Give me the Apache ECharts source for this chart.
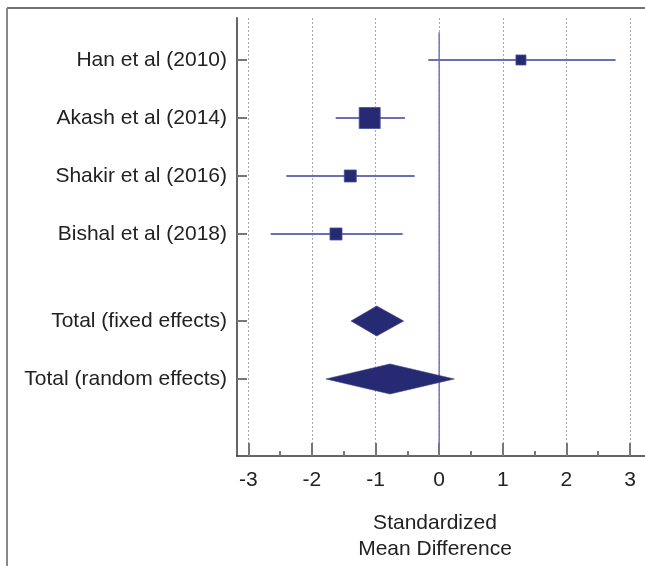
<!DOCTYPE html>
<html>
<head>
<meta charset="utf-8">
<script src="https://cdn.jsdelivr.net/npm/echarts@6/dist/echarts.min.js"></script>
<style>
html,body{margin:0;padding:0;background:#fff;}
#chart{width:645px;height:566px;}
</style>
</head>
<body>
<div id="chart"></div>
<script>
// ---- data ----
const studies = ['Han et al (2010)', 'Akash et al (2014)', 'Shakir et al (2016)', 'Bishal et al (2018)'];
const studyRow = [0, 1, 2, 3];
const smd = [1.286, -1.092, -1.397, -1.622];
const ciLow = [-0.171, -1.627, -2.403, -2.649];
const ciHigh = [2.774, -0.538, -0.385, -0.574];
const weights = [12.1, 53.2, 17.3, 17.4];

const pooledLabels = ['Total (fixed effects)', 'Total (random effects)'];
const pooledRow = [4.5, 5.5];
const pooledSmd = [-0.982, -0.773];
const pooledLow = [-1.386, -1.779];
const pooledHigh = [-0.558, 0.237];

const xTicks = [-3, -2, -1, 0, 1, 2, 3];
const xMinorTicks = [-2.5, -1.5, -0.5, 0.5, 1.5, 2.5];
const zeroLineY = [-0.48, 6.64];
const axisTitle = 'Standardized\nMean Difference';

// ---- build ----
const FONT = '"Liberation Sans", Arial, Helvetica, sans-serif';
const rowLabels = {};
studies.forEach((s, i) => { rowLabels[studyRow[i]] = s; });
pooledLabels.forEach((s, i) => { rowLabels[pooledRow[i]] = s; });
const yTickVals = studyRow.concat(pooledRow);

const studyData = studies.map((s, i) => [ciLow[i], ciHigh[i], smd[i], studyRow[i], weights[i]]);
const pooledData = pooledLabels.map((s, i) => [pooledLow[i], pooledHigh[i], pooledSmd[i], pooledRow[i]]);

const chart = echarts.init(document.getElementById('chart'), null, {renderer: 'canvas'});
const X_MIN = -3.178, X_MAX = 3.236;

chart.setOption({
  animation: false,
  backgroundColor: '#fff',
  grid: {left: 237, right: 0, top: 18, bottom: 110, containLabel: false},
  xAxis: [{
    type: 'value', min: X_MIN, max: X_MAX, position: 'bottom',
    axisLine: {show: true, onZero: false, lineStyle: {color: '#333', width: 1.5}},
    axisTick: {show: true, inside: true, length: 13, customValues: xTicks, lineStyle: {color: '#777', width: 2}},
    axisLabel: {show: true, customValues: xTicks, margin: 14, fontSize: 21, color: '#222', fontFamily: FONT,
      formatter: v => String(v)},
    splitLine: {show: true, lineStyle: {color: '#aaa', type: [2, 2], width: 1}},
    minorTick: {show: false}
  }, {
    type: 'value', min: X_MIN, max: X_MAX, position: 'bottom',
    axisLine: {show: false, onZero: false},
    axisTick: {show: true, inside: true, length: 5, customValues: xMinorTicks, lineStyle: {color: '#777', width: 2}},
    axisLabel: {show: false},
    splitLine: {show: false}
  }],
  yAxis: {
    type: 'value', inverse: true, min: -0.724, max: 6.828, position: 'left',
    axisLine: {show: true, onZero: false, lineStyle: {color: '#666', width: 2}},
    axisTick: {show: true, inside: true, length: 10, customValues: yTickVals, lineStyle: {color: '#777', width: 2}},
    axisLabel: {show: true, customValues: yTickVals, margin: 10, fontSize: 21, color: '#222', fontFamily: FONT,
      formatter: v => rowLabels[v] || ''},
    splitLine: {show: false}
  },
  graphic: [
    {type: 'line', shape: {x1: 7, y1: 8, x2: 645, y2: 8}, style: {stroke: '#444', lineWidth: 1.5}},
    {type: 'line', shape: {x1: 7, y1: 8, x2: 7, y2: 566}, style: {stroke: '#888', lineWidth: 2}},
    {type: 'text', x: 435, y: 510, style: {text: axisTitle, fontSize: 21, fontFamily: FONT, fill: '#222',
      align: 'center', verticalAlign: 'top', lineHeight: 26}}
  ],
  series: [
    {
      type: 'line', data: zeroLineY.map(y => [0, y]), symbol: 'none', silent: true,
      lineStyle: {color: '#6f73c2', width: 1.5}, z: 3
    },
    {
      type: 'custom', data: studyData, encode: {x: [0, 1, 2], y: 3}, z: 5,
      renderItem: function (params, api) {
        const y = api.value(3);
        const lo = api.coord([api.value(0), y]);
        const hi = api.coord([api.value(1), y]);
        const c = api.coord([api.value(2), y]);
        const s = 2.88 * Math.sqrt(api.value(4));
        return {type: 'group', children: [
          {type: 'line', shape: {x1: lo[0], y1: lo[1], x2: hi[0], y2: hi[1]}, style: {stroke: '#6a6fb8', lineWidth: 2}},
          {type: 'rect', shape: {x: c[0] - s / 2, y: c[1] - s / 2, width: s, height: s},
            style: {fill: '#262a72', stroke: '#4a4e98', lineWidth: 0.8}}
        ]};
      }
    },
    {
      type: 'custom', data: pooledData, encode: {x: [0, 1, 2], y: 3}, z: 5,
      renderItem: function (params, api) {
        const y = api.value(3);
        const lo = api.coord([api.value(0), y]);
        const hi = api.coord([api.value(1), y]);
        const c = api.coord([api.value(2), y]);
        const h = 15;
        return {type: 'polygon', shape: {points: [[lo[0], lo[1]], [c[0], c[1] - h], [hi[0], hi[1]], [c[0], c[1] + h]]},
          style: {fill: '#262a72', stroke: '#3a3e88', lineWidth: 0.6}};
      }
    }
  ]
});
</script>
</body>
</html>
